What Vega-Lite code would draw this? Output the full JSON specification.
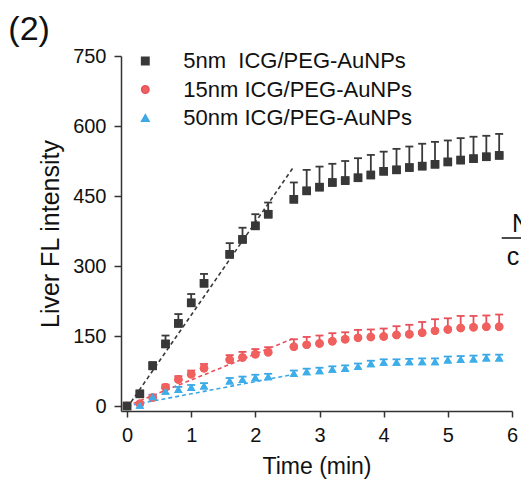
{
  "$schema": "https://vega.github.io/schema/vega-lite/v6.json",
  "width": 391,
  "height": 355,
  "autosize": {"type": "none"},
  "padding": {"left": 121, "top": 56, "right": 9, "bottom": 76},
  "background": "white",
  "config": {
    "view": {"stroke": null},
    "axis": {
      "domainColor": "#333333",
      "domainWidth": 1.5,
      "tickColor": "#333333",
      "tickWidth": 1.5,
      "labelFont": "Liberation Sans",
      "labelFontSize": 20,
      "labelColor": "#111111",
      "titleFont": "Liberation Sans",
      "titleFontSize": 23,
      "titleFontWeight": "normal",
      "titleColor": "#111111",
      "grid": false,
      "labelOverlap": false,
      "labelFlush": false,
      "labelBound": false
    },
    "legend": {
      "padding": 0,
      "symbolSize": 55,
      "labelFontSize": 22,
      "labelFont": "Liberation Sans",
      "labelColor": "#111111",
      "labelOffset": 27,
      "rowPadding": 6.5,
      "labelLimit": 400
    }
  },
  "datasets": {
    "pts": [
      {"s": "15nm ICG/PEG-AuNPs", "t": 0, "y": 0, "hi": 2},
      {"s": "15nm ICG/PEG-AuNPs", "t": 0.2, "y": 5, "hi": 8},
      {"s": "15nm ICG/PEG-AuNPs", "t": 0.4, "y": 18, "hi": 24},
      {"s": "15nm ICG/PEG-AuNPs", "t": 0.6, "y": 40, "hi": 46},
      {"s": "15nm ICG/PEG-AuNPs", "t": 0.8, "y": 57, "hi": 64},
      {"s": "15nm ICG/PEG-AuNPs", "t": 1.0, "y": 68, "hi": 76},
      {"s": "15nm ICG/PEG-AuNPs", "t": 1.2, "y": 81, "hi": 90},
      {"s": "15nm ICG/PEG-AuNPs", "t": 1.6, "y": 99, "hi": 109},
      {"s": "15nm ICG/PEG-AuNPs", "t": 1.8, "y": 104, "hi": 116},
      {"s": "15nm ICG/PEG-AuNPs", "t": 2.0, "y": 111, "hi": 122},
      {"s": "15nm ICG/PEG-AuNPs", "t": 2.2, "y": 115, "hi": 126},
      {"s": "15nm ICG/PEG-AuNPs", "t": 2.6, "y": 127, "hi": 143},
      {"s": "15nm ICG/PEG-AuNPs", "t": 2.8, "y": 131, "hi": 148},
      {"s": "15nm ICG/PEG-AuNPs", "t": 3.0, "y": 134, "hi": 151},
      {"s": "15nm ICG/PEG-AuNPs", "t": 3.2, "y": 139, "hi": 156},
      {"s": "15nm ICG/PEG-AuNPs", "t": 3.4, "y": 143, "hi": 158},
      {"s": "15nm ICG/PEG-AuNPs", "t": 3.6, "y": 146, "hi": 163},
      {"s": "15nm ICG/PEG-AuNPs", "t": 3.8, "y": 148, "hi": 164},
      {"s": "15nm ICG/PEG-AuNPs", "t": 4.0, "y": 149, "hi": 166},
      {"s": "15nm ICG/PEG-AuNPs", "t": 4.2, "y": 152, "hi": 171},
      {"s": "15nm ICG/PEG-AuNPs", "t": 4.4, "y": 154, "hi": 174},
      {"s": "15nm ICG/PEG-AuNPs", "t": 4.6, "y": 157, "hi": 180},
      {"s": "15nm ICG/PEG-AuNPs", "t": 4.8, "y": 161, "hi": 186},
      {"s": "15nm ICG/PEG-AuNPs", "t": 5.0, "y": 164, "hi": 188},
      {"s": "15nm ICG/PEG-AuNPs", "t": 5.2, "y": 167, "hi": 193},
      {"s": "15nm ICG/PEG-AuNPs", "t": 5.4, "y": 169, "hi": 193},
      {"s": "15nm ICG/PEG-AuNPs", "t": 5.6, "y": 170, "hi": 194},
      {"s": "15nm ICG/PEG-AuNPs", "t": 5.8, "y": 170, "hi": 196},
      {"s": "50nm ICG/PEG-AuNPs", "t": 0, "y": 0, "hi": 2},
      {"s": "50nm ICG/PEG-AuNPs", "t": 0.2, "y": 2, "hi": 6},
      {"s": "50nm ICG/PEG-AuNPs", "t": 0.4, "y": 20, "hi": 24},
      {"s": "50nm ICG/PEG-AuNPs", "t": 0.6, "y": 32, "hi": 37},
      {"s": "50nm ICG/PEG-AuNPs", "t": 0.8, "y": 36, "hi": 41},
      {"s": "50nm ICG/PEG-AuNPs", "t": 1.0, "y": 40, "hi": 45},
      {"s": "50nm ICG/PEG-AuNPs", "t": 1.2, "y": 43, "hi": 49},
      {"s": "50nm ICG/PEG-AuNPs", "t": 1.6, "y": 54, "hi": 60},
      {"s": "50nm ICG/PEG-AuNPs", "t": 1.8, "y": 57, "hi": 63},
      {"s": "50nm ICG/PEG-AuNPs", "t": 2.0, "y": 61, "hi": 67},
      {"s": "50nm ICG/PEG-AuNPs", "t": 2.2, "y": 63, "hi": 69},
      {"s": "50nm ICG/PEG-AuNPs", "t": 2.6, "y": 70, "hi": 76},
      {"s": "50nm ICG/PEG-AuNPs", "t": 2.8, "y": 74, "hi": 80},
      {"s": "50nm ICG/PEG-AuNPs", "t": 3.0, "y": 76, "hi": 82},
      {"s": "50nm ICG/PEG-AuNPs", "t": 3.2, "y": 79, "hi": 85},
      {"s": "50nm ICG/PEG-AuNPs", "t": 3.4, "y": 81, "hi": 87},
      {"s": "50nm ICG/PEG-AuNPs", "t": 3.6, "y": 85, "hi": 91},
      {"s": "50nm ICG/PEG-AuNPs", "t": 3.8, "y": 91, "hi": 97},
      {"s": "50nm ICG/PEG-AuNPs", "t": 4.0, "y": 94, "hi": 100},
      {"s": "50nm ICG/PEG-AuNPs", "t": 4.2, "y": 94, "hi": 100},
      {"s": "50nm ICG/PEG-AuNPs", "t": 4.4, "y": 95, "hi": 101},
      {"s": "50nm ICG/PEG-AuNPs", "t": 4.6, "y": 95, "hi": 102},
      {"s": "50nm ICG/PEG-AuNPs", "t": 4.8, "y": 95, "hi": 102},
      {"s": "50nm ICG/PEG-AuNPs", "t": 5.0, "y": 99, "hi": 106},
      {"s": "50nm ICG/PEG-AuNPs", "t": 5.2, "y": 100, "hi": 107},
      {"s": "50nm ICG/PEG-AuNPs", "t": 5.4, "y": 101, "hi": 108},
      {"s": "50nm ICG/PEG-AuNPs", "t": 5.6, "y": 103, "hi": 110},
      {"s": "50nm ICG/PEG-AuNPs", "t": 5.8, "y": 103, "hi": 110},
      {"s": "5nm\u00a0 ICG/PEG-AuNPs", "t": 0, "y": 0, "hi": 0},
      {"s": "5nm\u00a0 ICG/PEG-AuNPs", "t": 0.2, "y": 26, "hi": 30},
      {"s": "5nm\u00a0 ICG/PEG-AuNPs", "t": 0.4, "y": 86, "hi": 94},
      {"s": "5nm\u00a0 ICG/PEG-AuNPs", "t": 0.6, "y": 133, "hi": 151},
      {"s": "5nm\u00a0 ICG/PEG-AuNPs", "t": 0.8, "y": 177, "hi": 197},
      {"s": "5nm\u00a0 ICG/PEG-AuNPs", "t": 1.0, "y": 221, "hi": 240},
      {"s": "5nm\u00a0 ICG/PEG-AuNPs", "t": 1.2, "y": 263, "hi": 283},
      {"s": "5nm\u00a0 ICG/PEG-AuNPs", "t": 1.6, "y": 325, "hi": 349},
      {"s": "5nm\u00a0 ICG/PEG-AuNPs", "t": 1.8, "y": 357, "hi": 382},
      {"s": "5nm\u00a0 ICG/PEG-AuNPs", "t": 2.0, "y": 386, "hi": 411},
      {"s": "5nm\u00a0 ICG/PEG-AuNPs", "t": 2.2, "y": 411, "hi": 436},
      {"s": "5nm\u00a0 ICG/PEG-AuNPs", "t": 2.6, "y": 443, "hi": 479},
      {"s": "5nm\u00a0 ICG/PEG-AuNPs", "t": 2.8, "y": 461, "hi": 506},
      {"s": "5nm\u00a0 ICG/PEG-AuNPs", "t": 3.0, "y": 469, "hi": 513},
      {"s": "5nm\u00a0 ICG/PEG-AuNPs", "t": 3.2, "y": 479, "hi": 519},
      {"s": "5nm\u00a0 ICG/PEG-AuNPs", "t": 3.4, "y": 483, "hi": 525},
      {"s": "5nm\u00a0 ICG/PEG-AuNPs", "t": 3.6, "y": 489, "hi": 531},
      {"s": "5nm\u00a0 ICG/PEG-AuNPs", "t": 3.8, "y": 495, "hi": 538},
      {"s": "5nm\u00a0 ICG/PEG-AuNPs", "t": 4.0, "y": 503, "hi": 545},
      {"s": "5nm\u00a0 ICG/PEG-AuNPs", "t": 4.2, "y": 506, "hi": 551},
      {"s": "5nm\u00a0 ICG/PEG-AuNPs", "t": 4.4, "y": 511, "hi": 556},
      {"s": "5nm\u00a0 ICG/PEG-AuNPs", "t": 4.6, "y": 514, "hi": 562},
      {"s": "5nm\u00a0 ICG/PEG-AuNPs", "t": 4.8, "y": 518, "hi": 566},
      {"s": "5nm\u00a0 ICG/PEG-AuNPs", "t": 5.0, "y": 523, "hi": 569},
      {"s": "5nm\u00a0 ICG/PEG-AuNPs", "t": 5.2, "y": 527, "hi": 574},
      {"s": "5nm\u00a0 ICG/PEG-AuNPs", "t": 5.4, "y": 530, "hi": 577},
      {"s": "5nm\u00a0 ICG/PEG-AuNPs", "t": 5.6, "y": 534, "hi": 579},
      {"s": "5nm\u00a0 ICG/PEG-AuNPs", "t": 5.8, "y": 537, "hi": 583}
    ],
    "fit": [
      {"s": "5nm\u00a0 ICG/PEG-AuNPs", "t": 0, "y": -4},
      {"s": "5nm\u00a0 ICG/PEG-AuNPs", "t": 2.6, "y": 513},
      {"s": "15nm ICG/PEG-AuNPs", "t": 0, "y": 0},
      {"s": "15nm ICG/PEG-AuNPs", "t": 2.6, "y": 145},
      {"s": "50nm ICG/PEG-AuNPs", "t": 0, "y": 0},
      {"s": "50nm ICG/PEG-AuNPs", "t": 2.6, "y": 68}
    ],
    "ann": [
      {"x": -1.85, "y": 785, "text": "(2)", "size": 34},
      {"x": 6.0, "y": 373, "text": "N", "size": 25},
      {"x": 5.92, "y": 302, "text": "c", "size": 25}
    ],
    "bar": [
      {"x": 5.84, "x2": 6.4, "y": 360}
    ]
  },
  "layer": [
    {
      "data": {"name": "pts"},
      "mark": {"type": "point", "filled": true, "opacity": 1, "size": 72, "strokeWidth": 0},
      "encoding": {
        "x": {"field": "t", "type": "quantitative", "scale": {"domain": [-0.094, 6], "nice": false, "zero": false},
          "title": "Time (min)",
          "axis": {
            "values": [0, 0.5, 1, 1.5, 2, 2.5, 3, 3.5, 4, 4.5, 5, 5.5, 6],
            "labelExpr": "datum.value % 1 === 0 ? format(datum.value, 'd') : ''",
            "tickSize": {"condition": {"test": "datum.value % 1 === 0", "value": 6}, "value": 3.5},
            "labelPadding": 8,
            "titlePadding": 10
          }},
        "y": {"field": "y", "type": "quantitative", "scale": {"domain": [-10.7, 750], "nice": false, "zero": false},
          "title": "Liver FL intensity",
          "axis": {
            "values": [0, 75, 150, 225, 300, 375, 450, 525, 600, 675, 750],
            "labelExpr": "datum.value % 150 === 0 ? format(datum.value, 'd') : ''",
            "tickSize": {"condition": {"test": "datum.value % 150 === 0", "value": 7}, "value": 4},
            "labelPadding": 8,
            "titlePadding": 9,
            "titleFontSize": 25
          }},
        "color": {"field": "s", "type": "nominal",
          "scale": {"domain": ["5nm\u00a0 ICG/PEG-AuNPs", "15nm ICG/PEG-AuNPs", "50nm ICG/PEG-AuNPs"], "range": ["#383838", "#f0605e", "#3daeea"]},
          "legend": {"orient": "none", "legendX": 13.3, "legendY": -6, "title": null, "symbolSize": 55, "labelFontSize": 22, "labelOffset": 27, "rowPadding": 6.5}},
        "shape": {"field": "s", "type": "nominal",
          "scale": {"domain": ["5nm\u00a0 ICG/PEG-AuNPs", "15nm ICG/PEG-AuNPs", "50nm ICG/PEG-AuNPs"], "range": ["square", "circle", "triangle-up"]},
          "legend": {"orient": "none", "legendX": 13.3, "legendY": -6, "title": null, "symbolSize": 55, "labelFontSize": 22, "labelOffset": 27, "rowPadding": 6.5}}
      }
    },
    {
      "data": {"name": "fit"},
      "mark": {"type": "line", "strokeDash": [4, 3], "strokeWidth": 1.6},
      "encoding": {
        "x": {"field": "t", "type": "quantitative"},
        "y": {"field": "y", "type": "quantitative"},
        "stroke": {"field": "s", "type": "nominal", "legend": null,
          "scale": {"domain": ["5nm\u00a0 ICG/PEG-AuNPs", "15nm ICG/PEG-AuNPs", "50nm ICG/PEG-AuNPs"], "range": ["#3a3a3a", "#e8505a", "#3aa6e6"]}},
        "detail": {"field": "s"}
      }
    },
    {
      "data": {"name": "pts"},
      "mark": {"type": "rule", "strokeWidth": 1.8},
      "encoding": {
        "x": {"field": "t", "type": "quantitative"},
        "y": {"field": "y", "type": "quantitative"},
        "y2": {"field": "hi"},
        "stroke": {"field": "s", "type": "nominal", "legend": null}
      }
    },
    {
      "data": {"name": "pts"},
      "mark": {"type": "point", "shape": "stroke", "size": 64, "strokeWidth": 1.8, "opacity": 1, "filled": false},
      "encoding": {
        "x": {"field": "t", "type": "quantitative"},
        "y": {"field": "hi", "type": "quantitative"},
        "stroke": {"field": "s", "type": "nominal", "legend": null}
      }
    },
    {
      "data": {"name": "pts"},
      "mark": {"type": "point", "filled": true, "opacity": 1, "size": 72, "strokeWidth": 0},
      "encoding": {
        "x": {"field": "t", "type": "quantitative"},
        "y": {"field": "y", "type": "quantitative"},
        "color": {"field": "s", "type": "nominal"},
        "shape": {"field": "s", "type": "nominal"}
      }
    },
    {
      "data": {"name": "ann"},
      "mark": {"type": "text", "align": "left", "baseline": "alphabetic", "font": "Liberation Sans", "color": "#111111"},
      "encoding": {
        "x": {"field": "x", "type": "quantitative"},
        "y": {"field": "y", "type": "quantitative"},
        "text": {"field": "text"},
        "size": {"field": "size", "type": "quantitative", "scale": null}
      }
    },
    {
      "data": {"name": "bar"},
      "mark": {"type": "rule", "strokeWidth": 1.5, "color": "#111111"},
      "encoding": {
        "x": {"field": "x", "type": "quantitative"},
        "x2": {"field": "x2"},
        "y": {"field": "y", "type": "quantitative"}
      }
    }
  ]
}
